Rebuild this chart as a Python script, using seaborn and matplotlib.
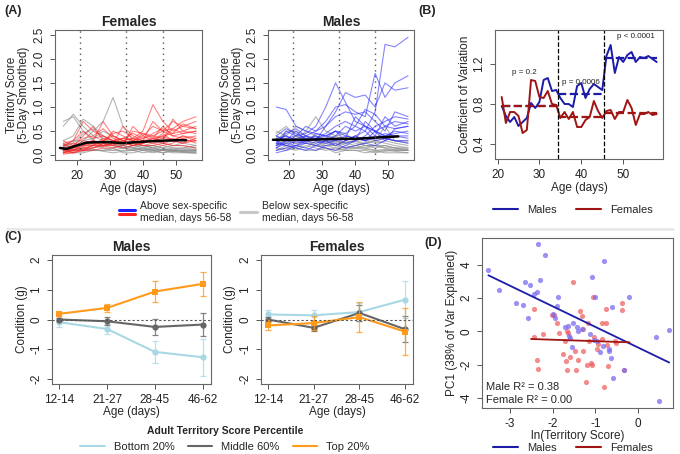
import matplotlib
matplotlib.use("Agg")
import numpy as np
import pandas as pd
import matplotlib.pyplot as plt
import seaborn as sns
from matplotlib.lines import Line2D
from matplotlib.legend_handler import HandlerBase

# ---------------- Panel A: individual trajectories ----------------
AGES = [16, 19, 22, 25, 28, 31, 34, 37, 40, 43, 46, 49, 52, 56]

FEM_ABOVE = [
    [0.20, 0.30, 0.70, 0.50, 0.40, 0.30, 0.35, 0.30, 0.40, 0.60, 0.50, 0.55, 0.70, 0.80],
    [0.10, 0.15, 0.30, 0.25, 0.30, 0.40, 0.30, 0.35, 0.50, 1.05, 0.70, 0.50, 0.60, 0.55],
    [0.05, 0.10, 0.20, 0.30, 0.25, 0.50, 0.40, 0.30, 0.35, 0.40, 0.50, 0.70, 0.60, 0.70],
    [0.30, 0.20, 0.40, 0.60, 0.30, 0.25, 0.60, 0.40, 0.30, 0.30, 0.40, 0.45, 0.50, 0.45],
    [0.15, 0.10, 0.15, 0.20, 0.35, 0.30, 0.25, 0.50, 0.45, 0.35, 0.60, 0.40, 0.35, 0.40],
    [0.05, 0.05, 0.10, 0.20, 0.20, 0.25, 0.30, 0.25, 0.30, 0.35, 0.30, 0.75, 0.50, 0.60],
    [0.20, 0.25, 0.20, 0.30, 0.70, 0.40, 0.30, 0.20, 0.25, 0.30, 0.35, 0.30, 0.40, 0.35],
    [0.10, 0.05, 0.15, 0.15, 0.20, 0.20, 0.30, 0.35, 0.30, 0.25, 0.30, 0.35, 0.30, 0.30],
    [0.05, 0.10, 0.25, 0.30, 0.20, 0.30, 0.20, 0.60, 0.40, 0.30, 0.45, 0.30, 0.25, 0.30],
    [0.25, 0.30, 0.50, 0.35, 0.40, 0.30, 0.35, 0.30, 0.20, 0.25, 0.20, 0.25, 0.35, 0.25],
    [0.10, 0.20, 0.10, 0.10, 0.15, 0.15, 0.20, 0.25, 0.20, 0.20, 0.25, 0.20, 0.20, 0.15],
    [0.02, 0.05, 0.10, 0.15, 0.25, 0.20, 0.15, 0.20, 0.30, 0.70, 0.50, 0.40, 0.45, 0.50],
    [0.15, 0.20, 0.35, 0.40, 0.55, 0.35, 0.25, 0.30, 0.45, 0.40, 0.35, 0.55, 0.45, 0.50],
    [0.08, 0.12, 0.18, 0.25, 0.20, 0.25, 0.35, 0.45, 0.35, 0.45, 0.55, 0.45, 0.65, 0.55],
    [0.22, 0.15, 0.25, 0.20, 0.30, 0.45, 0.50, 0.35, 0.25, 0.30, 0.25, 0.30, 0.25, 0.35],
    [0.12, 0.08, 0.12, 0.22, 0.18, 0.22, 0.25, 0.20, 0.25, 0.35, 0.40, 0.30, 0.40, 0.30],
]
FEM_BELOW = [
    [0.60, 0.85, 0.60, 0.40, 0.30, 0.20, 0.15, 0.10, 0.12, 0.10, 0.10, 0.08, 0.07, 0.05],
    [0.70, 0.80, 0.50, 0.30, 0.20, 0.15, 0.20, 0.15, 0.10, 0.15, 0.12, 0.10, 0.08, 0.10],
    [0.20, 0.30, 0.30, 0.50, 0.70, 1.20, 0.60, 0.30, 0.20, 0.15, 0.10, 0.15, 0.12, 0.10],
    [0.30, 0.40, 0.75, 0.60, 0.40, 0.30, 0.25, 0.20, 0.20, 0.15, 0.20, 0.15, 0.15, 0.12],
    [0.10, 0.15, 0.20, 0.20, 0.15, 0.10, 0.10, 0.10, 0.15, 0.10, 0.12, 0.10, 0.10, 0.08],
    [0.15, 0.20, 0.25, 0.30, 0.25, 0.20, 0.20, 0.15, 0.20, 0.20, 0.15, 0.20, 0.20, 0.15],
    [0.20, 0.10, 0.10, 0.15, 0.20, 0.25, 0.20, 0.15, 0.10, 0.10, 0.05, 0.10, 0.10, 0.12],
    [0.05, 0.10, 0.15, 0.10, 0.10, 0.15, 0.05, 0.05, 0.10, 0.05, 0.10, 0.05, 0.05, 0.05],
    [0.25, 0.15, 0.30, 0.35, 0.50, 0.40, 0.30, 0.20, 0.25, 0.30, 0.25, 0.20, 0.25, 0.20],
    [0.10, 0.05, 0.05, 0.10, 0.10, 0.10, 0.15, 0.20, 0.15, 0.20, 0.15, 0.10, 0.15, 0.20],
    [0.18, 0.25, 0.45, 0.55, 0.35, 0.25, 0.15, 0.12, 0.15, 0.12, 0.10, 0.12, 0.08, 0.08],
    [0.08, 0.12, 0.08, 0.12, 0.08, 0.05, 0.08, 0.10, 0.05, 0.08, 0.05, 0.08, 0.06, 0.04],
]
MALE_ABOVE = [
    [0.20, 0.30, 0.25, 0.30, 0.35, 0.40, 0.50, 0.45, 0.60, 0.50, 0.90, 2.30, 2.25, 2.45],
    [0.30, 0.40, 0.30, 0.40, 0.50, 0.70, 1.00, 1.05, 0.90, 0.80, 1.70, 1.20, 1.50, 1.65],
    [0.25, 0.20, 0.30, 0.35, 0.30, 0.60, 0.90, 1.30, 1.20, 1.25, 1.00, 1.50, 1.35, 1.40],
    [0.30, 0.35, 0.40, 0.45, 0.60, 1.00, 1.50, 1.10, 0.70, 0.60, 0.50, 0.60, 0.70, 0.65],
    [1.00, 0.95, 0.60, 0.50, 0.45, 0.40, 0.50, 0.40, 0.35, 0.30, 0.40, 0.35, 0.30, 0.30],
    [0.20, 0.50, 0.40, 0.60, 0.50, 0.60, 0.80, 0.90, 0.85, 0.90, 0.70, 0.50, 0.90, 0.80],
    [0.40, 0.30, 0.50, 0.30, 0.40, 0.30, 0.40, 0.60, 0.50, 0.60, 0.40, 0.80, 0.60, 0.70],
    [0.10, 0.15, 0.20, 0.30, 0.25, 0.30, 0.20, 0.30, 0.40, 0.30, 0.50, 0.40, 0.50, 0.45],
    [0.30, 0.20, 0.15, 0.10, 0.20, 0.15, 0.10, 0.20, 0.30, 0.70, 0.50, 0.30, 0.40, 0.35],
    [0.15, 0.30, 0.35, 0.40, 0.30, 0.35, 0.50, 0.30, 0.40, 0.50, 0.30, 0.35, 0.30, 0.25],
    [0.05, 0.10, 0.20, 0.15, 0.10, 0.20, 0.25, 0.15, 0.20, 0.25, 0.20, 0.30, 0.55, 0.60],
    [0.35, 0.40, 0.30, 0.25, 0.20, 0.30, 0.30, 0.35, 0.80, 0.60, 0.50, 0.40, 0.45, 0.50],
    [0.25, 0.45, 0.55, 0.40, 0.35, 0.45, 0.60, 0.70, 0.60, 0.95, 0.85, 0.60, 0.55, 0.60],
    [0.15, 0.25, 0.20, 0.25, 0.45, 0.40, 0.35, 0.25, 0.30, 0.40, 0.60, 0.70, 0.80, 0.75],
    [0.40, 0.55, 0.45, 0.35, 0.30, 0.25, 0.30, 0.40, 0.35, 0.30, 0.35, 0.45, 0.40, 0.40],
]
MALE_BELOW = [
    [0.50, 0.40, 0.60, 0.50, 0.80, 0.50, 0.40, 0.30, 0.25, 0.20, 0.20, 0.15, 0.15, 0.10],
    [0.30, 0.50, 0.50, 0.40, 0.30, 0.35, 0.30, 0.25, 0.30, 0.20, 0.20, 0.20, 0.15, 0.15],
    [0.20, 0.25, 0.30, 0.30, 0.25, 0.30, 0.20, 0.30, 0.40, 0.30, 0.25, 0.30, 0.25, 0.20],
    [0.10, 0.15, 0.10, 0.20, 0.15, 0.10, 0.15, 0.10, 0.10, 0.10, 0.05, 0.10, 0.08, 0.05],
    [0.40, 0.30, 0.35, 0.30, 0.20, 0.25, 0.30, 0.20, 0.15, 0.15, 0.10, 0.12, 0.10, 0.10],
    [0.25, 0.20, 0.20, 0.15, 0.30, 0.20, 0.15, 0.15, 0.20, 0.25, 0.30, 0.60, 0.30, 0.25],
    [0.15, 0.10, 0.15, 0.10, 0.10, 0.15, 0.05, 0.10, 0.10, 0.05, 0.08, 0.05, 0.05, 0.05],
    [0.45, 0.60, 0.40, 0.35, 0.40, 0.30, 0.25, 0.35, 0.30, 0.35, 0.30, 0.25, 0.20, 0.15],
    [0.30, 0.30, 0.25, 0.25, 0.20, 0.20, 0.20, 0.15, 0.15, 0.20, 0.15, 0.20, 0.15, 0.12],
    [0.20, 0.35, 0.30, 0.50, 0.40, 0.35, 0.40, 0.45, 0.30, 0.25, 0.30, 0.35, 0.30, 0.30],
    [0.35, 0.25, 0.40, 0.30, 0.35, 0.25, 0.20, 0.25, 0.20, 0.15, 0.20, 0.15, 0.10, 0.10],
    [0.10, 0.20, 0.15, 0.25, 0.20, 0.15, 0.10, 0.12, 0.15, 0.12, 0.10, 0.08, 0.12, 0.10],
]
FEM_MEAN_AGE = [15, 17, 20, 23, 26, 30, 34, 38, 42, 46, 50, 53]
FEM_MEAN = [0.15, 0.13, 0.20, 0.26, 0.27, 0.27, 0.25, 0.27, 0.29, 0.30, 0.31, 0.31]
MALE_MEAN_AGE = [15, 20, 25, 30, 35, 40, 45, 50, 53]
MALE_MEAN = [0.32, 0.32, 0.32, 0.33, 0.34, 0.34, 0.36, 0.38, 0.39]
BREAKS_A = [21, 35, 46]

# ---------------- Panel B: coefficient of variation ----------------
CV_AGE = list(range(21, 59))
CV_MALES = [0.78, 0.68, 0.62, 0.67, 0.58, 0.62, 0.66, 0.81, 0.76, 0.82,
            1.04, 1.06, 0.93, 0.94, 0.86, 0.80, 0.80, 0.77, 0.98, 1.01,
            0.86, 0.95, 1.00, 0.97, 0.94, 1.28, 1.39, 1.11, 1.27, 1.22,
            1.29, 1.32, 1.22, 1.27, 1.26, 1.28, 1.25, 1.22]
CV_FEMALES = [0.87, 0.61, 0.72, 0.72, 0.68, 0.51, 0.54, 1.04, 1.03, 0.87,
              0.86, 0.93, 0.80, 0.79, 0.66, 0.72, 0.65, 0.72, 0.57, 0.57,
              0.64, 0.67, 0.83, 0.73, 0.66, 0.73, 0.74, 0.65, 0.72, 0.72,
              0.84, 0.76, 0.59, 0.70, 0.70, 0.72, 0.69, 0.70]
CV_START = [21, 34.5, 45.5]
CV_END = [34.5, 45.5, 58]
CV_MALE_MEANS = [0.78, 0.90, 1.26]
CV_FEMALE_MEANS = [0.78, 0.67, 0.71]
P_LABELS = ["p = 0.2", "p = 0.0006", "p < 0.0001"]

# ---------------- Panel C: condition ----------------
AGE_BINS = ["12-14", "21-27", "28-45", "46-62"]
M_BOTTOM = [-0.09, -0.32, -1.09, -1.27]
M_BOTTOM_SE = [0.15, 0.18, 0.36, 0.62]
M_MIDDLE = [0.00, -0.06, -0.25, -0.17]
M_MIDDLE_SE = [0.06, 0.13, 0.26, 0.39]
M_TOP = [0.19, 0.39, 0.94, 1.20]
M_TOP_SE = [0.07, 0.14, 0.36, 0.41]
F_BOTTOM = [0.17, 0.14, 0.25, 0.67]
F_BOTTOM_SE = [0.15, 0.18, 0.30, 0.62]
F_MIDDLE = [0.00, -0.28, 0.22, -0.33]
F_MIDDLE_SE = [0.08, 0.10, 0.28, 0.44]
F_TOP = [-0.20, -0.12, 0.08, -0.41]
F_TOP_SE = [0.17, 0.25, 0.50, 0.80]

# ---------------- Panel D: PC1 vs territory score ----------------
D_MALE_X = [-3.51, -3.25, -2.35, -2.19, -2.65, -2.53, -2.30, -2.86, -2.69, -2.59,
            -2.45, -2.36, -1.87, -1.89, -2.00, -1.94, -1.71, -1.65, -1.63, -1.60,
            -1.53, -1.43, -1.41, -1.32, -1.55, -1.08, -1.00, -0.81, -1.13, -1.04,
            -0.96, -0.90, -0.82, -0.69, -0.67, -0.63, -0.61, -0.59, -0.34, -0.21,
            0.42, 0.73, 0.49]
D_MALE_Y = [3.66, 2.50, 5.26, 4.60, 2.96, 2.80, 3.06, 1.70, 1.60, 0.78,
            2.26, 2.36, 2.06, 1.54, 1.04, 0.80, 0.26, 0.34, -0.26, -0.40,
            0.50, 0.28, 0.04, 0.16, -0.96, 3.26, 2.06, 4.20, -0.14, -0.54,
            -0.60, -1.24, -0.90, -1.16, -1.04, -1.60, 1.46, -2.80, -2.34, 2.08,
            -0.32, 0.08, -4.20]
D_FEM_X = [-2.45, -2.45, -2.22, -2.36, -2.34, -2.02, -1.98, -1.90, -1.85, -1.76,
           -1.71, -1.67, -1.64, -1.69, -1.66, -1.60, -1.53, -1.47, -1.46, -1.42,
           -1.35, -1.32, -1.30, -1.28, -1.20, -1.23, -1.17, -1.14, -1.11, -1.08,
           -1.06, -0.96, -0.95, -0.85, -0.85, -0.81, -0.75, -0.76, -0.73, -0.70,
           -0.53, -0.52, -0.38, -0.37, -0.32, -1.04]
D_FEM_Y = [1.34, -0.36, -0.16, -1.74, -2.26, 1.00, 1.00, 0.48, -0.12, -1.36,
           -0.56, 0.00, -0.08, -1.80, -2.34, -1.56, 2.96, -1.20, -2.30, -1.74,
           1.24, 0.90, 0.16, -1.20, -2.00, -3.06, 0.52, -0.60, -1.90, -2.04,
           2.04, -1.06, -0.74, -0.44, 0.48, -3.36, 0.48, 1.34, -0.84, -2.06,
           -0.60, -0.70, 1.68, 1.26, -2.34, -0.36]
# fitted lines: (intercept, slope)
D_MALE_FIT = (-0.97, -1.234)
D_FEM_FIT = (-0.677, -0.0866)
R2_TEXT = ["Male R² = 0.38", "Female R² = 0.00"]

BLUE_A = "#2222ff"
RED_A = "#ff2020"
GRAY_A = "#8c8c8c"
NAVY = "#1c1ca8"
DARKRED = "#a01414"
LIGHTBLUE = "#a8d8e6"
MIDGRAY = "#666666"
ORANGE = "#ff9a1a"


class StackKey:
    pass


class StackHandler(HandlerBase):
    def create_artists(self, legend, orig_handle, xdescent, ydescent,
                       width, height, fontsize, trans):
        top = Line2D([0, width], [height * 0.85] * 2, color=BLUE_A, lw=2.2, transform=trans)
        bot = Line2D([0, width], [height * 0.25] * 2, color=RED_A, lw=2.2, transform=trans)
        return [top, bot]


def style_axis(ax):
    for s in ax.spines.values():
        s.set_visible(True)
        s.set_color("#666666")
        s.set_linewidth(0.8)
    ax.tick_params(direction="out", length=3.5, width=0.7, color="#555555",
                   labelsize=8.5, labelcolor="#222222")
    ax.tick_params(axis="y", labelrotation=90)
    for lab in ax.get_yticklabels():
        lab.set_va("center")


def to_long(rows):
    recs = []
    for i, row in enumerate(rows):
        for a, v in zip(AGES, row):
            recs.append({"id": i, "age": a, "score": v})
    return pd.DataFrame(recs)


def plot_trajectories(ax, above, below, mean_age, mean, color, title):
    sns.lineplot(data=to_long(below), x="age", y="score", units="id", estimator=None,
                 color=GRAY_A, alpha=0.65, lw=0.8, ax=ax, legend=False)
    sns.lineplot(data=to_long(above), x="age", y="score", units="id", estimator=None,
                 color=color, alpha=0.55, lw=0.8, ax=ax, legend=False)
    sns.lineplot(x=mean_age, y=mean, color="black", lw=1.8, ax=ax)
    for b in BREAKS_A:
        ax.axvline(b, ls=(0, (1, 3)), color="#555555", lw=1)
    ax.set_xlim(13.5, 57.8)
    ax.set_ylim(-0.1, 2.6)
    ax.set_xticks([20, 30, 40, 50])
    ax.set_yticks(np.arange(0, 2.51, 0.5))
    ax.set_yticklabels([f"{v:.1f}" for v in np.arange(0, 2.51, 0.5)])
    ax.set_title(title, fontsize=10, fontweight="bold", pad=3)
    ax.set_xlabel("Age (days)", fontsize=8.5, labelpad=1)
    ax.set_ylabel("Territory Score\n(5-Day Smoothed)", fontsize=8.5, labelpad=2, linespacing=1.0)
    style_axis(ax)


def plot_condition(ax, series, title):
    xs = np.arange(len(AGE_BINS))
    for vals, se, col, mk in series:
        ax.errorbar(xs, vals, yerr=se, fmt="none", ecolor=col, elinewidth=0.9,
                    capsize=2.5, capthick=0.9, alpha=0.8)
        sns.lineplot(x=xs, y=vals, color=col, lw=1.5, marker=mk, markersize=4.5,
                     markeredgewidth=0, ax=ax)
    ax.axhline(0, ls=(0, (2, 2)), color="#555555", lw=0.8)
    ax.set_xlim(-0.15, 3.17)
    ax.set_ylim(-2.17, 2.17)
    ax.set_xticks(xs)
    ax.set_xticklabels(AGE_BINS)
    ax.set_yticks([-2, -1, 0, 1, 2])
    ax.set_title(title, fontsize=10, fontweight="bold", pad=3)
    ax.set_xlabel("Age (days)", fontsize=8.5, labelpad=0)
    ax.set_ylabel("Condition (g)", fontsize=8.5, labelpad=2)
    style_axis(ax)


def main():
    sns.set_style("ticks")
    plt.rcParams["font.family"] = ["Liberation Sans", "DejaVu Sans"]
    plt.rcParams["axes.unicode_minus"] = False

    fig = plt.figure(figsize=(6.8, 4.54), dpi=100)
    H = 454.0
    W = 680.0

    def axes_px(left, top, right, bottom):
        return fig.add_axes([left / W, 1 - bottom / H, (right - left) / W, (bottom - top) / H])

    # (A)
    ax_af = axes_px(55, 30, 202, 160)
    ax_am = axes_px(268, 30, 414, 160)
    plot_trajectories(ax_af, FEM_ABOVE, FEM_BELOW, FEM_MEAN_AGE, FEM_MEAN, RED_A, "Females")
    plot_trajectories(ax_am, MALE_ABOVE, MALE_BELOW, MALE_MEAN_AGE, MALE_MEAN, BLUE_A, "Males")

    fig.legend([StackKey(), Line2D([], [], color="#c8c8c8", lw=2.2)],
               ["Above sex-specific\nmedian, days 56-58", "Below sex-specific\nmedian, days 56-58"],
               handler_map={StackKey: StackHandler()}, loc="center",
               bbox_to_anchor=(236 / W, 1 - 212 / H), ncol=2, frameon=False,
               fontsize=7.5, handlelength=1.6, handletextpad=0.5, columnspacing=0.8)

    # (B)
    ax_b = axes_px(495, 30, 663, 159)
    sns.lineplot(x=CV_AGE, y=CV_MALES, color=NAVY, lw=1.4, ax=ax_b)
    sns.lineplot(x=CV_AGE, y=CV_FEMALES, color=DARKRED, lw=1.4, ax=ax_b)
    ax_b.hlines(CV_MALE_MEANS, CV_START, CV_END, colors=NAVY, linestyles="--", lw=1.6)
    ax_b.hlines(CV_FEMALE_MEANS, CV_START, CV_END, colors=DARKRED, linestyles="--", lw=1.6)
    for b in CV_START[1:]:
        ax_b.axvline(b, ls="--", color="black", lw=0.9)
    for txt, xx, yy in zip(P_LABELS, [26.5, 39.9, 53.0], [1.11, 1.01, 1.47]):
        ax_b.text(xx, yy, txt, fontsize=5.8, ha="center", va="center", color="#222222")
    ax_b.set_xlim(19.4, 59.5)
    ax_b.set_ylim(0.25, 1.54)
    ax_b.set_xticks([20, 30, 40, 50])
    ax_b.set_yticks([0.4, 0.8, 1.2])
    ax_b.set_xlabel("Age (days)", fontsize=8.5, labelpad=1)
    ax_b.set_ylabel("Coefficient of Variation", fontsize=8.5, labelpad=2)
    style_axis(ax_b)
    fig.legend([Line2D([], [], color=NAVY, lw=1.5), Line2D([], [], color=DARKRED, lw=1.5)],
               ["Males", "Females"], loc="center", bbox_to_anchor=(573 / W, 1 - 210 / H),
               ncol=2, frameon=False, fontsize=8, handlelength=2.2, columnspacing=1.8)

    # (C)
    ax_cm = axes_px(52, 255, 211, 384)
    ax_cf = axes_px(261, 255, 413, 384)
    plot_condition(ax_cm, [(M_BOTTOM, M_BOTTOM_SE, LIGHTBLUE, "o"),
                           (M_MIDDLE, M_MIDDLE_SE, MIDGRAY, "o"),
                           (M_TOP, M_TOP_SE, ORANGE, "s")], "Males")
    plot_condition(ax_cf, [(F_BOTTOM, F_BOTTOM_SE, LIGHTBLUE, "o"),
                           (F_MIDDLE, F_MIDDLE_SE, MIDGRAY, "o"),
                           (F_TOP, F_TOP_SE, ORANGE, "s")], "Females")
    fig.legend([Line2D([], [], color=c, lw=1.5) for c in (LIGHTBLUE, MIDGRAY, ORANGE)],
               ["Bottom 20%", "Middle 60%", "Top 20%"], loc="center",
               bbox_to_anchor=(225 / W, 1 - 439 / H), ncol=3, frameon=False, fontsize=8,
               handlelength=2.2, columnspacing=1.2, title="Adult Territory Score Percentile",
               title_fontproperties={"weight": "bold", "size": 7.5})

    # (D)
    ax_d = axes_px(482, 238, 673, 408)
    sns.scatterplot(x=D_FEM_X, y=D_FEM_Y, color="#f05a5a", alpha=0.7, s=14, linewidth=0, ax=ax_d)
    sns.scatterplot(x=D_MALE_X, y=D_MALE_Y, color="#7a6cf0", alpha=0.75, s=14, linewidth=0, ax=ax_d)
    for xs, fit, col in [(D_MALE_X, D_MALE_FIT, NAVY), ([-2.51, -0.2], D_FEM_FIT, DARKRED)]:
        xr = np.array([min(xs), max(xs)])
        ax_d.plot(xr, fit[0] + fit[1] * xr, color=col, lw=1.3)
    ax_d.text(0.02, 0.125, R2_TEXT[0], transform=ax_d.transAxes, fontsize=8, va="center")
    ax_d.text(0.02, 0.045, R2_TEXT[1], transform=ax_d.transAxes, fontsize=8, va="center")
    ax_d.set_xlim(-3.66, 0.82)
    ax_d.set_ylim(-4.6, 5.6)
    ax_d.set_xticks([-3, -2, -1, 0])
    ax_d.set_yticks([-4, -2, 0, 2, 4])
    ax_d.set_xlabel("ln(Territory Score)", fontsize=8.5, labelpad=0)
    ax_d.set_ylabel("PC1 (38% of Var Explained)", fontsize=8.5, labelpad=2)
    style_axis(ax_d)
    fig.legend([Line2D([], [], color=NAVY, lw=1.5), Line2D([], [], color=DARKRED, lw=1.5)],
               ["Males", "Females"], loc="center", bbox_to_anchor=(573 / W, 1 - 448 / H),
               ncol=2, frameon=False, fontsize=8, handlelength=2.2, columnspacing=1.8)

    # panel letters and separator
    for lab, x, y in [("(A)", 4, 11), ("(B)", 418, 11), ("(C)", 4, 237), ("(D)", 424, 243)]:
        fig.text(x / W, 1 - y / H, lab, fontsize=9, fontweight="bold", va="center")
    fig.add_artist(Line2D([0.01, 0.99], [1 - 229 / H] * 2, color="#e8e8e8", lw=2,
                          transform=fig.transFigure))

    fig.savefig("out.png", dpi=100)


if __name__ == "__main__":
    main()
